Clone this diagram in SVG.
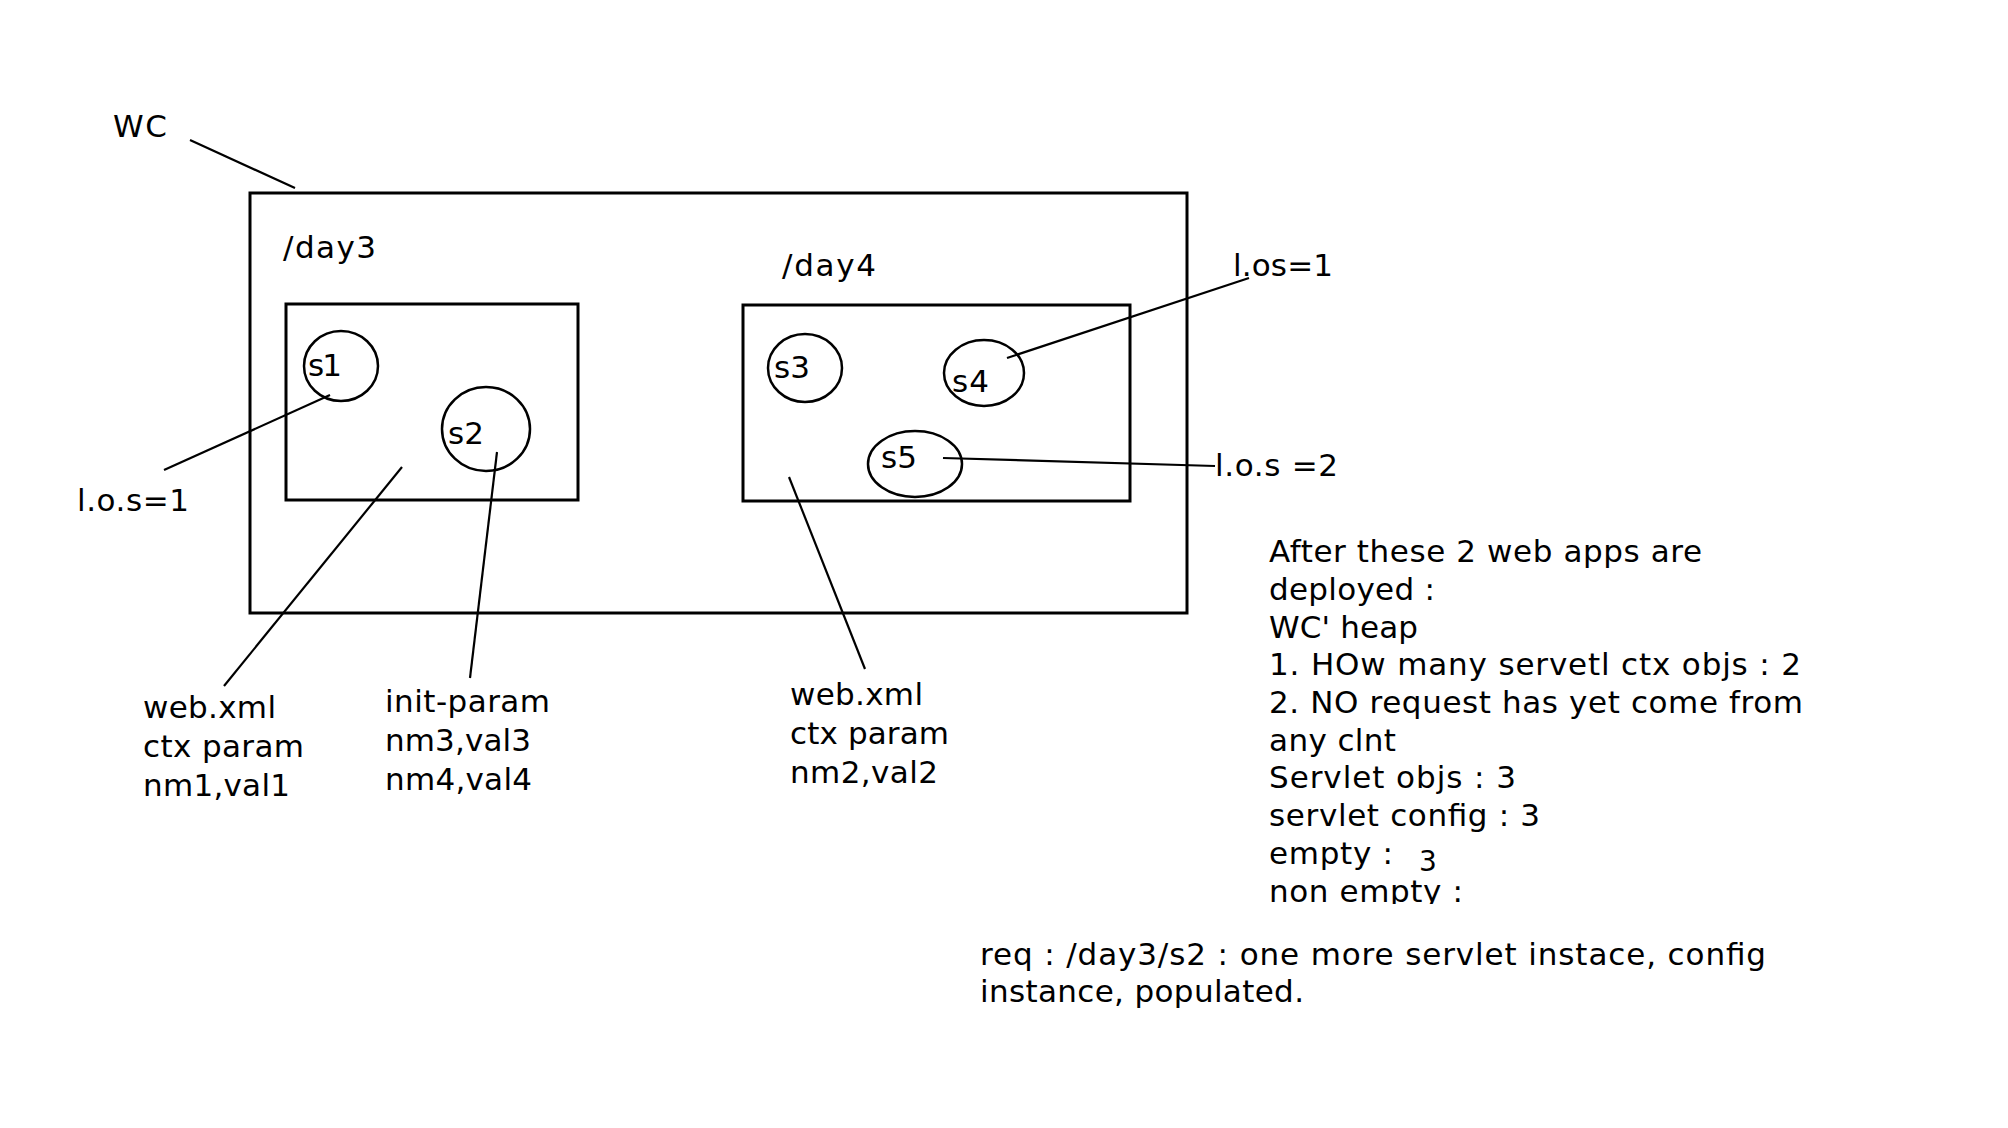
<svg xmlns="http://www.w3.org/2000/svg" width="2008" height="1128" viewBox="0 0 2008 1128">
<style>
text{font-family:"DejaVu Sans","Liberation Sans",sans-serif;font-size:31px;fill:#000}
.box{fill:none;stroke:#000;stroke-width:3}
.node{fill:none;stroke:#000;stroke-width:2.5}
.con line{stroke:#000;stroke-width:2.2}
</style>
<defs><clipPath id="clipBottom"><rect x="0" y="0" width="2008" height="904"/></clipPath></defs>
<rect width="2008" height="1128" fill="#fff"/>
<g id="wc"><rect class="box" x="250" y="193" width="937" height="420"/><text x="113" y="137" textLength="54">WC</text></g>
<g id="day3"><rect class="box" x="286" y="304" width="292" height="196"/><text x="283" y="258" textLength="93">/day3</text></g>
<g id="day4"><rect class="box" x="743" y="305" width="387" height="196"/><text x="782" y="276" textLength="94">/day4</text></g>
<g id="s1"><ellipse class="node" cx="341" cy="366" rx="37" ry="35"/><text x="308" y="376" textLength="34">s1</text></g>
<g id="s2"><ellipse class="node" cx="486" cy="429" rx="44" ry="42"/><text x="448" y="444" textLength="36">s2</text></g>
<g id="s3"><ellipse class="node" cx="805" cy="368" rx="37" ry="34"/><text x="774" y="378" textLength="36">s3</text></g>
<g id="s4"><ellipse class="node" cx="984" cy="373" rx="40" ry="33"/><text x="952" y="392" textLength="37">s4</text></g>
<g id="s5"><ellipse class="node" cx="915" cy="464" rx="47" ry="33"/><text x="881" y="468" textLength="36">s5</text></g>
<g id="connectors" class="con">
<line x1="190" y1="140" x2="295" y2="188"/>
<line x1="330" y1="395" x2="164" y2="470"/>
<line x1="402" y1="467" x2="224" y2="686"/>
<line x1="497" y1="452" x2="470" y2="678"/>
<line x1="789" y1="477" x2="865" y2="669"/>
<line x1="1007" y1="358" x2="1249" y2="278"/>
<line x1="943" y1="458" x2="1215" y2="466"/>
</g>
<g id="labels">
<text x="77" y="511" textLength="112">l.o.s=1</text>
<text x="1233" y="276" textLength="100">l.os=1</text>
<text x="1215" y="476" textLength="123">l.o.s =2</text>
<text x="143" y="718" textLength="133">web.xml</text>
<text x="143" y="757" textLength="161">ctx param</text>
<text x="143" y="796" textLength="147">nm1,val1</text>
<text x="385" y="712" textLength="165">init-param</text>
<text x="385" y="751" textLength="146">nm3,val3</text>
<text x="385" y="790" textLength="147">nm4,val4</text>
<text x="790" y="705" textLength="133">web.xml</text>
<text x="790" y="744" textLength="159">ctx param</text>
<text x="790" y="783" textLength="148">nm2,val2</text>
</g>
<g id="notes">
<text x="1269" y="562" textLength="433">After these 2 web apps are</text>
<text x="1269" y="600" textLength="166">deployed :</text>
<text x="1269" y="638" textLength="149">WC' heap</text>
<text x="1269" y="675" textLength="532">1. HOw many servetl ctx objs : 2</text>
<text x="1269" y="713" textLength="534">2. NO request has yet come from</text>
<text x="1269" y="751" textLength="127">any clnt</text>
<text x="1269" y="788" textLength="247">Servlet objs : 3</text>
<text x="1269" y="826" textLength="271">servlet config : 3</text>
<text x="1269" y="864" textLength="124">empty :</text>
<text x="1419" y="871" style="font-size:28px">3</text>
<text x="1269" y="902" textLength="194" clip-path="url(#clipBottom)">non empty :</text>
<text x="980" y="965" textLength="786">req : /day3/s2 : one more servlet instace, config</text>
<text x="980" y="1002" textLength="324">instance, populated.</text>
</g>
</svg>
